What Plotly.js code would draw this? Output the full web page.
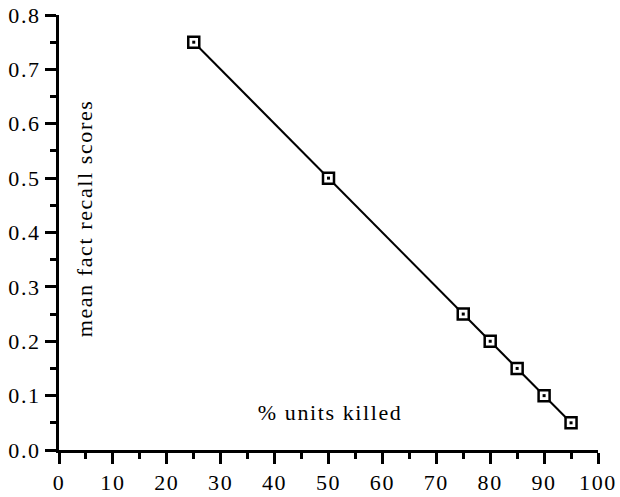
<!DOCTYPE html>
<html>
<head>
<meta charset="utf-8">
<script src="https://cdn.plot.ly/plotly-3.0.1.min.js"></script>
<style>
html,body{margin:0;padding:0;background:#fff;}
#chart{width:620px;height:497px;}
#chart svg text { letter-spacing: 1.6px !important; }
</style>
</head>
<body>
<div id="chart"></div>
<script>
var unitsKilled = [25, 50, 75, 80, 85, 90, 95];
var recallScores = [0.75, 0.5, 0.25, 0.2, 0.15, 0.1, 0.05];
var xTitle = "% units killed";
var yTitle = "mean fact recall scores";

var fontFam = "'Liberation Serif', 'Times New Roman', serif";

var trace = {
  x: unitsKilled,
  y: recallScores,
  mode: "lines+markers",
  type: "scatter",
  line: {color: "#000", width: 2},
  marker: {symbol: "square", size: 11, color: "#fff", line: {color: "#000", width: 2.5}},
  cliponaxis: false,
  showlegend: false
};
var dots = {
  x: unitsKilled,
  y: recallScores,
  mode: "markers",
  type: "scatter",
  marker: {symbol: "square", size: 3, color: "#000", line: {width: 0}},
  cliponaxis: false,
  showlegend: false
};

var layout = {
  width: 620, height: 497,
  margin: {l: 59, r: 22, t: 15, b: 47},
  paper_bgcolor: "#fff", plot_bgcolor: "#fff",
  font: {family: fontFam, size: 20, color: "#000"},
  xaxis: {
    range: [0, 100], dtick: 10, tick0: 0,
    showgrid: false, zeroline: false,
    showline: true, linecolor: "#000", linewidth: 3,
    ticks: "outside", ticklen: 11, tickwidth: 3, tickcolor: "#000",
    minor: {dtick: 5, ticks: "outside", ticklen: 6, tickwidth: 3, tickcolor: "#000", showgrid: false},
    tickfont: {family: fontFam, size: 22, color: "#000"},
    fixedrange: true
  },
  yaxis: {
    range: [0, 0.8], dtick: 0.1, tick0: 0, tickformat: ".1f",
    showgrid: false, zeroline: false,
    showline: true, linecolor: "#000", linewidth: 3,
    ticks: "outside", ticklen: 11, tickwidth: 3, tickcolor: "#000",
    minor: {dtick: 0.05, ticks: "outside", ticklen: 6, tickwidth: 3, tickcolor: "#000", showgrid: false},
    tickfont: {family: fontFam, size: 22, color: "#000"},
    fixedrange: true
  },
  annotations: [
    {text: xTitle, xref: "paper", yref: "paper", x: 0.503, y: 0.087, showarrow: false,
     font: {family: fontFam, size: 22, color: "#000"}, xanchor: "center", yanchor: "middle"},
    {text: yTitle, xref: "paper", yref: "paper", x: 0.046, y: 0.533, showarrow: false, textangle: -90,
     font: {family: fontFam, size: 22, color: "#000"}, xanchor: "center", yanchor: "middle"}
  ]
};

Plotly.newPlot("chart", [trace, dots], layout, {displayModeBar: false, staticPlot: true});
</script>
</body>
</html>
